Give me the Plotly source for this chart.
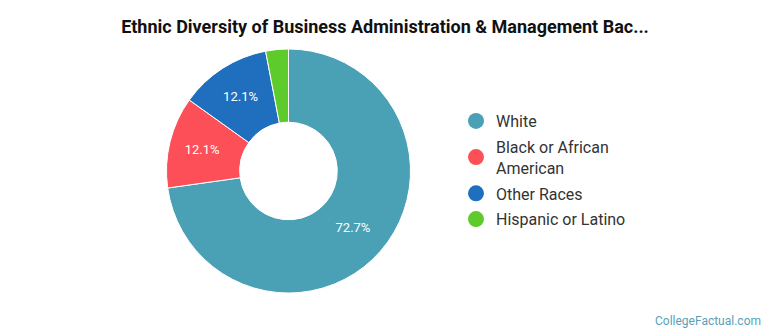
import plotly.graph_objects as go

labels = ["White", "Black or African American", "Other Races", "Hispanic or Latino"]
legend_labels = ["White", "Black or African<br>American", "Other Races", "Hispanic or Latino"]
values = [72.7, 12.1, 12.1, 3.0]
colors = ["#4aa0b4", "#fd4f57", "#1f6fbe", "#5ecb2c"]
text_labels = ["72.7%", "12.1%", "12.1%", ""]

W, H = 770, 335
cx, cy, r = 288.5, 171, 122

fig = go.Figure()
fig.add_trace(go.Pie(
    labels=labels, values=values, sort=False, direction="clockwise", rotation=0,
    hole=0.4, text=text_labels, textinfo="text", textposition="inside",
    insidetextorientation="horizontal",
    textfont=dict(family="Roboto", size=13, color="#ffffff"),
    marker=dict(colors=colors, line=dict(color="#ffffff", width=1)),
    showlegend=False, hoverinfo="label+percent",
    domain=dict(x=[(cx - r) / W, (cx + r) / W], y=[(H - cy - r) / H, (H - cy + r) / H]),
))
for i, (lab, col) in enumerate(zip(legend_labels, colors)):
    fig.add_trace(go.Scatter(x=[None], y=[None], mode="markers", name=lab,
                             legendgroup="g%d" % i,
                             marker=dict(symbol="circle", size=17, color=col)))

fig.update_layout(
    width=W, height=H, margin=dict(l=0, r=0, t=0, b=0),
    paper_bgcolor="#ffffff", plot_bgcolor="#ffffff",
    xaxis=dict(visible=False), yaxis=dict(visible=False),
    title=dict(text="<b>Ethnic Diversity of Business Administration & Management Bac...</b>",
               x=0.5, xanchor="center", y=1 - 27 / H, yanchor="middle",
               font=dict(family="Roboto", size=18, color="#111111")),
    legend=dict(x=456 / W, y=1 - 104 / H, xanchor="left", yanchor="top",
                font=dict(family="Roboto", size=16, color="#333333"),
                itemsizing="trace", tracegroupgap=2, bgcolor="rgba(0,0,0,0)"),
    annotations=[dict(text="CollegeFactual.com", x=763 / W, y=1 - 321 / H, xref="paper", yref="paper",
                      xanchor="right", yanchor="middle", showarrow=False,
                      font=dict(family="Roboto", size=12, color="#5a9fb8"))],
)
fig.write_html("out.html")
